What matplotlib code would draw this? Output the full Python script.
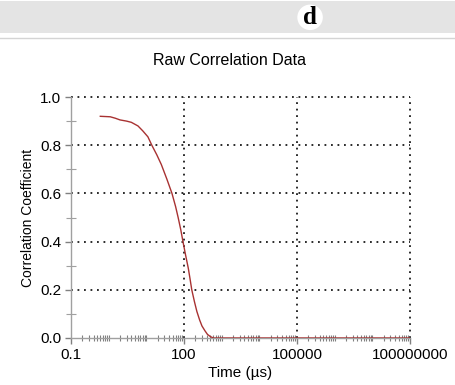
import matplotlib
matplotlib.use('Agg')
import matplotlib.pyplot as plt
from matplotlib.ticker import FixedLocator, FixedFormatter, LogLocator, NullFormatter
from matplotlib.patches import Rectangle

plt.rcParams['font.family'] = ['Liberation Sans', 'DejaVu Sans']

# Raw correlation curve
time_us = [0.6, 1.1, 1.5, 2, 3, 4, 6, 8, 11, 14, 19, 25, 35, 48, 60, 70, 82, 94,
           110, 130, 145, 161, 190, 220, 260, 300, 360, 420, 500, 600,
           1000, 1e4, 1e5, 1e6, 1e7, 1e8]
corr = [0.92, 0.918, 0.912, 0.905, 0.90, 0.895, 0.88, 0.86, 0.835, 0.80, 0.76, 0.72,
        0.66, 0.60, 0.545, 0.50, 0.45, 0.40, 0.345, 0.29, 0.245, 0.20, 0.15, 0.11,
        0.075, 0.05, 0.03, 0.015, 0.006, 0.0,
        0.0, 0.0, 0.0, 0.0, 0.0, 0.0]

x_ticks = [0.1, 100, 100000, 100000000]
x_labels = ['0.1', '100', '100000', '100000000']
y_ticks = [0.0, 0.2, 0.4, 0.6, 0.8, 1.0]
y_labels = ['0.0', '0.2', '0.4', '0.6', '0.8', '1.0']

fig = plt.figure(figsize=(4.56, 3.85), dpi=100)

# gray header band with panel letter
fig.patches.append(Rectangle((0, 0.914), 1, 0.084, transform=fig.transFigure,
                             facecolor='#e4e4e4', edgecolor='none', zorder=0))
fig.add_artist(plt.Line2D([0, 1], [0.901, 0.901], transform=fig.transFigure,
                          color='#d4d4d4', lw=1))
fig.text(0.68, 0.955, 'd', family='Liberation Serif', weight='bold', fontsize=18,
         ha='center', va='center',
         bbox=dict(boxstyle='circle,pad=0.05', facecolor='white', edgecolor='none'))

fig.text(0.503, 0.844, 'Raw Correlation Data', ha='center', va='center', fontsize=11.5)

ax = fig.add_axes([0.1557, 0.1221, 0.899 - 0.1557, 0.748 - 0.1221])
ax.set_xscale('log')
ax.set_xlim(0.1, 1e8)
ax.set_ylim(0, 1.0)

ax.plot(time_us, corr, color='#a83232', lw=1.0, zorder=3)

# dotted grid (edges included)
for yv in y_ticks[1:]:
    ax.axhline(yv, color='#1a1a1a', lw=1.3, linestyle=(0, (1, 2.6)), clip_on=False, zorder=2)
for xv in x_ticks[1:]:
    ax.axvline(xv, color='#1a1a1a', lw=1.3, linestyle=(0, (1, 2.6)), clip_on=False, zorder=2)

for s in ['top', 'right']:
    ax.spines[s].set_visible(False)
for s in ['left', 'bottom']:
    ax.spines[s].set_color('#a0a0a0')
    ax.spines[s].set_linewidth(1.0)

ax.xaxis.set_major_locator(FixedLocator(x_ticks))
ax.xaxis.set_major_formatter(FixedFormatter(x_labels))
ax.xaxis.set_minor_locator(LogLocator(base=10, subs=[1, 2, 3, 4, 5, 6, 7, 8, 9], numticks=30))
ax.xaxis.set_minor_formatter(NullFormatter())
ax.yaxis.set_major_locator(FixedLocator(y_ticks))
ax.yaxis.set_major_formatter(FixedFormatter(y_labels))
ax.yaxis.set_minor_locator(FixedLocator([0.1, 0.3, 0.5, 0.7, 0.9]))

ax.tick_params(axis='both', which='major', labelsize=11, color='#808080', length=4,
               width=1.0, direction='out', pad=3)
ax.tick_params(axis='x', which='minor', direction='inout', length=4, width=0.8, color='#808080')
ax.tick_params(axis='y', which='minor', direction='inout', length=7, width=0.8, color='#a0a0a0')

ax.set_xlabel('Time (µs)', fontsize=11, labelpad=3)
ax.set_ylabel('Correlation Coefficient', fontsize=10, labelpad=4)

fig.savefig('out.png', dpi=100)
